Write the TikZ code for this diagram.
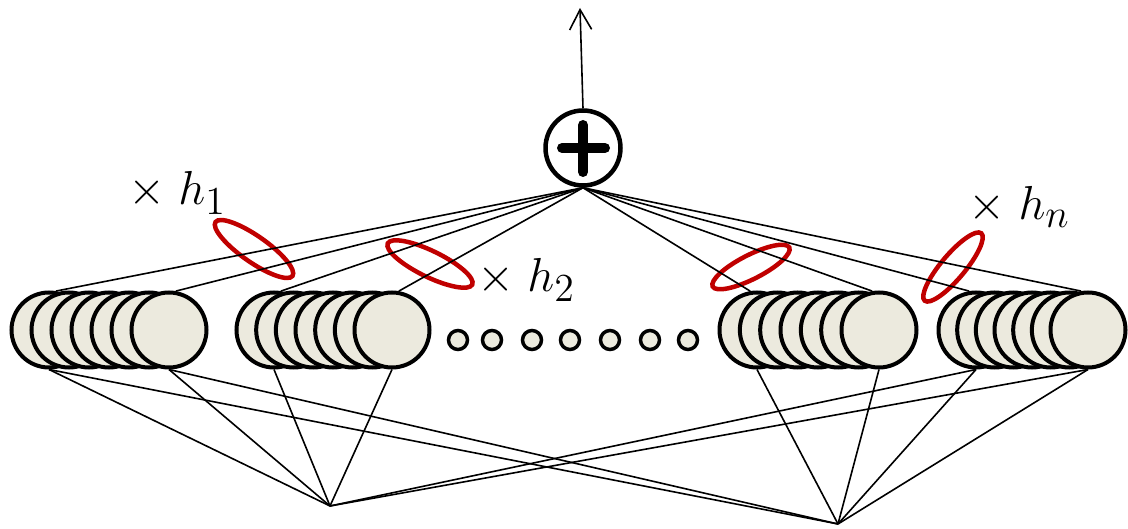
\documentclass[tikz,border=0pt]{standalone}
\usetikzlibrary{arrows.meta,backgrounds}
\definecolor{discfill}{RGB}{236,234,222}
\definecolor{ringred}{RGB}{192,0,0}
\newcommand{\bigsub}[1]{\scalebox{1.2}{$\scriptstyle #1$}}
\tikzset{
  disc/.style={circle, draw=black, line width=4pt, fill=discfill, minimum size=75pt, inner sep=0pt},
  dotc/.style={circle, draw=black, line width=3.5pt, fill=discfill, minimum size=19pt, inner sep=0pt},
  plusnode/.style={circle, draw=black, line width=4.5pt, minimum size=75pt, inner sep=0pt},
  conn/.style={draw=black, line width=1.6pt},
  ring/.style={draw=ringred, line width=4.5pt},
  lbl/.style={inner sep=0pt, anchor=base, font=\huge, scale=2.3},
  plusbar/.style={draw=black, line width=10pt, line cap=round}
}
\begin{document}
\begin{tikzpicture}[x=1pt,y=-1pt]
\useasboundingbox (0,0) rectangle (1128,529);
% groups of discs
\foreach \g/\xa/\xb in {1/49/169, 2/274/392, 3/757/879, 4/976/1088} {
  \foreach \k in {0,...,6} {
    \node[disc] (g\g-\k) at ({\xa+(\xb-\xa)*\k/6},330) {};
  }
}
% small dots
\foreach \x [count=\i] in {458,492,532,570,610,650,688}
  \node[dotc] (d\i) at (\x,340) {};
% sum node
\node[plusnode] (plus) at (583,148) {};
\draw[plusbar] (plus.center) ++(-21,0) -- ++(43,0);
\draw[plusbar] (plus.center) ++(0,-23) -- ++(0,47);
\coordinate (out) at (580,8);
\coordinate (hubA) at (330,506);
\coordinate (hubB) at (838,524);
% labels
\node[lbl] (l1) at (177,205) {$\times\;h_{\bigsub{1}}$};
\node[lbl] (l2) at (526,292) {$\times\;h_{\bigsub{2}}$};
\node[lbl] (ln) at (1019,220) {$\times\;h_{\bigsub{n}}$};
\begin{pgfonlayer}{background}
  \draw[ring, rotate around={-35:(254,249)}] (254,249) ellipse [x radius=47pt, y radius=13pt];
  \draw[ring, rotate around={-26:(430,264)}] (430,264) ellipse [x radius=47pt, y radius=13pt];
  \draw[ring, rotate around={27:(751,267)}] (751,267) ellipse [x radius=43pt, y radius=12pt];
  \draw[ring, rotate around={50:(953,267)}] (953,267) ellipse [x radius=44pt, y radius=12pt];
  \draw[conn, -{Straight Barb[length=20pt,width=22pt]}] (plus.north) -- (out);
  \foreach \n in {g1-0,g1-6,g2-0,g2-6}
    \draw[conn] (plus.south) -- (\n.80);
  \foreach \n in {g3-0,g3-6,g4-0,g4-6}
    \draw[conn] (plus.south) -- (\n.100);
  \foreach \n in {g1-0,g1-6,g2-0,g2-6,g4-0,g4-6}
    \draw[conn] (\n.south) -- (hubA);
  \foreach \n in {g1-0,g1-6,g3-0,g3-6,g4-0,g4-6}
    \draw[conn] (\n.south) -- (hubB);
\end{pgfonlayer}
\end{tikzpicture}
\end{document}
